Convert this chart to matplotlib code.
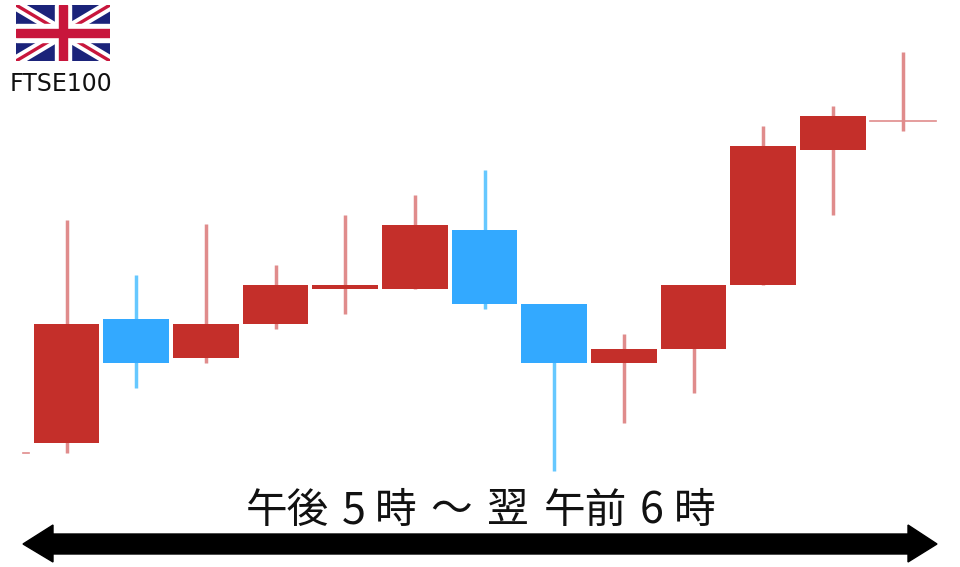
import matplotlib
matplotlib.use('Agg')
import matplotlib.pyplot as plt
from matplotlib.patches import Polygon, Rectangle

# candle values (arbitrary price units, higher is up)
opens  = [124, 248, 209, 243, 278, 278, 337, 263, 204, 218, 282, 417, 446]
closes = [243, 204, 243, 282, 282, 342, 263, 204, 218, 282, 421, 451, 446]
highs  = [347, 292, 343, 302, 352, 372, 397, 263, 233, 282, 441, 461, 515]
lows   = [114, 179, 204, 238, 253, 278, 258, 96, 144, 174, 282, 352, 436]

RED = '#c42f2a'
RED_WICK = '#e08c8c'
BLUE = '#33a9ff'
BLUE_WICK = '#66c8ff'

plt.rcParams['font.family'] = ['Noto Sans CJK JP', 'DejaVu Sans']

fig = plt.figure(figsize=(9.6, 5.67), dpi=100)

# page axes in pixels, used for the labels and the arrow
page = fig.add_axes([0, 0, 1, 1])
page.set_xlim(0, 960)
page.set_ylim(567, 0)
page.axis('off')

# chart axes, x is candle number and y is price
ax = fig.add_axes([0, 0, 1, 1])
ax.set_xlim(-66.5 / 69.67, (960 - 66.5) / 69.67)
ax.set_ylim(0, 567)
ax.axis('off')
ax.patch.set_alpha(0)

for i in range(len(opens)):
    up = closes[i] >= opens[i]
    wick = RED_WICK if up else BLUE_WICK
    body = RED if up else BLUE
    ax.plot([i, i], [lows[i], highs[i]], color=wick, lw=2.5, solid_capstyle='butt', zorder=1)
    if opens[i] == closes[i]:
        ax.plot([i - 0.47, i + 0.48], [opens[i], closes[i]], color=RED_WICK, lw=1.2, zorder=2)
    else:
        ax.bar(i, closes[i] - opens[i], bottom=opens[i], width=0.945, color=body, zorder=2)

# bit of the previous candle at the left edge
ax.plot([-0.63, -0.54], [114, 114], color=RED_WICK, lw=1.2)

# union jack
flag = fig.add_axes([16 / 960, 1 - 61 / 567, 94 / 960, 56 / 567])
flag.set_xlim(0, 60)
flag.set_ylim(0, 36)
flag.axis('off')
flag.add_patch(Rectangle((0, 0), 60, 36, color='#1b237a', zorder=1))
flag.plot([0, 60], [0, 36], color='white', lw=8, solid_capstyle='butt', zorder=2)
flag.plot([0, 60], [36, 0], color='white', lw=8, solid_capstyle='butt', zorder=2)
flag.plot([0, 60], [0, 36], color='#c8163c', lw=2.4, solid_capstyle='butt', zorder=3)
flag.plot([0, 60], [36, 0], color='#c8163c', lw=2.4, solid_capstyle='butt', zorder=3)
flag.add_patch(Rectangle((25.2, 0), 9.6, 36, color='white', zorder=4))
flag.add_patch(Rectangle((0, 12.4), 60, 11.2, color='white', zorder=4))
flag.add_patch(Rectangle((27.5, 0), 5, 36, color='#c8163c', zorder=5))
flag.add_patch(Rectangle((0, 15.2), 60, 5.6, color='#c8163c', zorder=5))

page.text(61, 84, 'FTSE100', fontsize=17, ha='center', va='center', color='#111111',
          family=['DejaVu Sans'])

# time span label, each piece placed by its left edge
pieces = [('午後', 246, 30), ('5', 342, 31), ('時', 375, 30), ('～', 430, 30), ('翌', 487, 30),
          ('午前', 544, 30), ('6', 640, 31), ('時', 674, 30)]
for txt, x, size in pieces:
    page.text(x, 511, txt, fontsize=size, ha='left', va='center', color='#111111')

# double headed arrow
page.add_patch(Polygon([(23, 544), (53, 525), (53, 534), (908, 534), (908, 525), (937, 544),
                        (908, 562), (908, 554), (53, 554), (53, 562)], closed=True, color='black'))

fig.savefig('out.png', dpi=100)
